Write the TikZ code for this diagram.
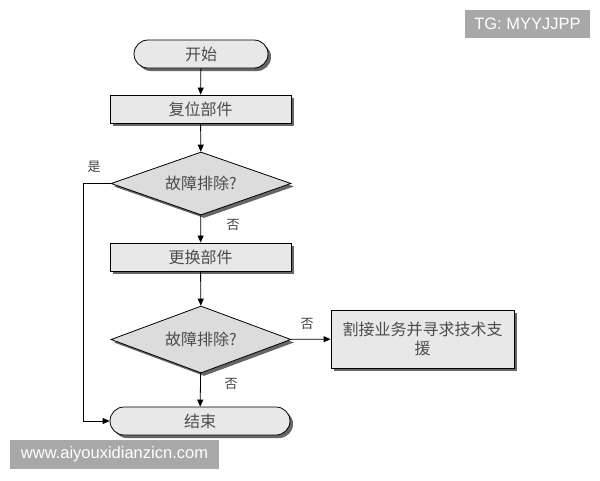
\documentclass[tikz,border=0pt]{standalone}
\usepackage{fontspec}
\setmainfont{Liberation Serif}
\newfontfamily\cjk{Noto Sans CJK SC}
\newfontfamily\wm{Liberation Sans}
\usetikzlibrary{shapes.geometric,arrows.meta,shadows}
\definecolor{boxfill}{HTML}{E8E8E8}
\definecolor{diafill}{HTML}{DCDCDC}
\definecolor{wmgray}{HTML}{A8A8A8}
\begin{document}
\begin{tikzpicture}[x=1pt,y=-1pt,
  base/.style={draw=black,line width=0.8pt,font=\cjk\fontsize{16}{19}\selectfont,text=black!70,
    drop shadow={shadow xshift=3pt,shadow yshift=-3pt,fill=black!60,opacity=1}},
  term/.style={base,fill=boxfill,rounded corners=14pt,minimum height=28pt,inner ysep=0pt},
  proc/.style={base,fill=boxfill,minimum height=28pt,inner ysep=0pt},
  dia/.style={base,fill=diafill,diamond,aspect=2.85,minimum width=180pt,minimum height=63pt,inner sep=0pt},
  lab/.style={font=\cjk\fontsize{13}{15}\selectfont,text=black!75},
  arr/.style={line width=0.8pt,-{Triangle[length=7pt,width=6pt]}},
  wmbox/.style={fill=wmgray,text=white,font=\wm\fontsize{16.5}{19}\selectfont,inner sep=0pt}
]
\useasboundingbox (0,0) rectangle (600,480);
\fill[white] (0,0) rectangle (600,480);
\node[term,minimum width=134pt] (start) at (201,54) {开始};
\node[proc,minimum width=181pt] (reset) at (200.5,109) {复位部件};
\node[dia] (d1) at (201,183.5) {故障排除?};
\node[proc,minimum width=181pt] (repl) at (200.5,257) {更换部件};
\node[dia,minimum height=67pt] (d2) at (201,339.5) {故障排除?};
\node[proc,minimum width=183pt,minimum height=58pt,align=center,text width=172pt] (sup) at (422.5,339) {割接业务并寻求技术支\\援};
\node[term,minimum width=180pt] (end) at (200,421) {结束};
\coordinate (lt) at (83,183.5);
\coordinate (lb) at (83,421);
\draw[arr] (start) -- (reset);
\draw[arr] (reset) -- (d1);
\draw[arr] (d1) -- (repl);
\draw[arr] (repl) -- (d2);
\draw[arr] (d2) -- (sup);
\draw[arr] (d2) -- (end);
\draw[arr] (d1.west) -- (lt) -- (lb) -- (end.west);
\node[lab] (yes) at (94,167) {是};
\node[lab] (no1) at (233,225) {否};
\node[lab] (no2) at (307,324) {否};
\node[lab] (no3) at (231,384) {否};
\node[wmbox,minimum width=125pt,minimum height=28pt] (wm1) at (527.5,24) {TG: MYYJJPP};
\node[wmbox,minimum width=209pt,minimum height=29pt] (wm2) at (114.5,454.5) {www.aiyouxidianzicn.com};
\end{tikzpicture}
\end{document}
